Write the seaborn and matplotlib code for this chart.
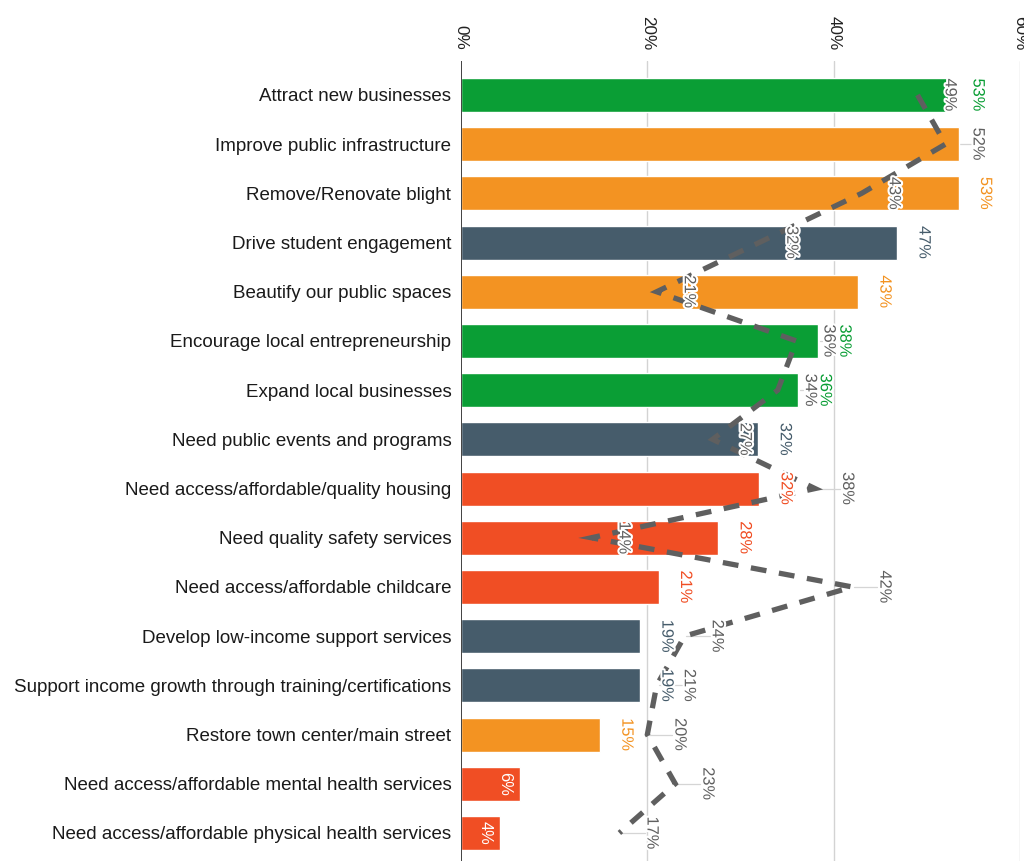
import matplotlib
matplotlib.use("Agg")
import matplotlib.pyplot as plt
import matplotlib.patheffects as pe
import seaborn as sns

# Categories (top to bottom)
categories = [
    "Attract new businesses",
    "Improve public infrastructure",
    "Remove/Renovate blight",
    "Drive student engagement",
    "Beautify our public spaces",
    "Encourage local entrepreneurship",
    "Expand local businesses",
    "Need public events and programs",
    "Need access/affordable/quality housing",
    "Need quality safety services",
    "Need access/affordable childcare",
    "Develop low-income support services",
    "Support income growth through training/certifications",
    "Restore town center/main street",
    "Need access/affordable mental health services",
    "Need access/affordable physical health services",
]
# Bar values (%)
bar_values = [52.6, 53.4, 53.4, 46.8, 42.6, 38.3, 36.2, 31.9, 32.0, 27.6, 21.2, 19.2, 19.2, 14.9, 6.3, 4.2]
# Group of each bar (drives colour)
groups = ["business", "place", "place", "people", "place", "business", "business", "people",
          "needs", "needs", "needs", "people", "people", "place", "needs", "needs"]
# Dashed line series (%)
line_values = [49, 52, 43, 32, 21, 36, 34, 27, 38, 14, 42, 24, 21, 20, 23, 17]
# Bars whose value label is not shown
hidden_bar_labels = ["Improve public infrastructure"]
ticks = [0, 20, 40, 60]

group_colors = {"business": "#0a9e35", "place": "#f39322", "people": "#465c6b", "needs": "#f04e24"}
bar_colors = [group_colors[g] for g in groups]
line_color = "#5f5f5f"

sns.set_theme(style="white")
plt.rcParams["font.family"] = ["Liberation Sans", "DejaVu Sans"]

fig = plt.figure(figsize=(10.24, 8.61), dpi=100)
ax = fig.add_axes([461 / 1024, 0, (1020 - 461) / 1024, 800 / 861])

sns.barplot(x=bar_values, y=categories, hue=categories, palette=bar_colors,
            legend=False, orient="h", width=0.69, saturation=1, ax=ax, zorder=2)

# dashed line through the categories
idx = list(range(len(categories)))
sns.lineplot(x=line_values, y=idx, estimator=None, sort=False, color=line_color,
             linewidth=3.8, linestyle=(0, (3, 2.4)), dash_joinstyle="miter",
             dash_capstyle="butt", ax=ax, zorder=3)

halo = [pe.withStroke(linewidth=3, foreground="white")]

# bar value labels
for i, (cat, v, c) in enumerate(zip(categories, bar_values, bar_colors)):
    if cat in hidden_bar_labels:
        continue
    if v < 10:
        ax.text(v - 1.6, i, f"{round(v)}%", rotation=270, ha="center", va="center",
                color="white", fontsize=11.8, zorder=5)
    else:
        ax.text(v + 2.9, i, f"{round(v)}%", rotation=270, ha="center", va="center",
                color=c, fontsize=11.8, zorder=5, path_effects=halo)

# line value labels with leaders where they sit clear of the bar
for i, (lv, bv) in enumerate(zip(line_values, bar_values)):
    start = max(lv, bv) + 0.2
    end = lv + 2.7
    if end > start:
        ax.plot([start, end], [i, i], color="#d5d5d5", lw=0.9, zorder=1)
    ax.text(lv + 3.5, i, f"{lv}%", rotation=270, ha="center", va="center",
            color="#606060", fontsize=11.8, zorder=6, path_effects=halo)

ax.set_xlim(0, 60)
ax.set_ylim(15.57, -0.69)
ax.set_xticks(ticks)
ax.set_xticklabels([f"{t}%" for t in ticks], rotation=270, fontsize=12.3, color="#222222")
ax.xaxis.tick_top()
ax.tick_params(axis="x", length=0, pad=8)
ax.tick_params(axis="y", length=0, pad=7, labelsize=13.5, labelcolor="#1a1a1a")
for t in ticks[1:]:
    ax.axvline(t, color="#d3d3d3", lw=1, zorder=0)
ax.axvline(0, color="#333333", lw=1.3, zorder=4)
for s in ax.spines.values():
    s.set_visible(False)
ax.set_xlabel("")
ax.set_ylabel("")

fig.savefig("out.png", dpi=100)
